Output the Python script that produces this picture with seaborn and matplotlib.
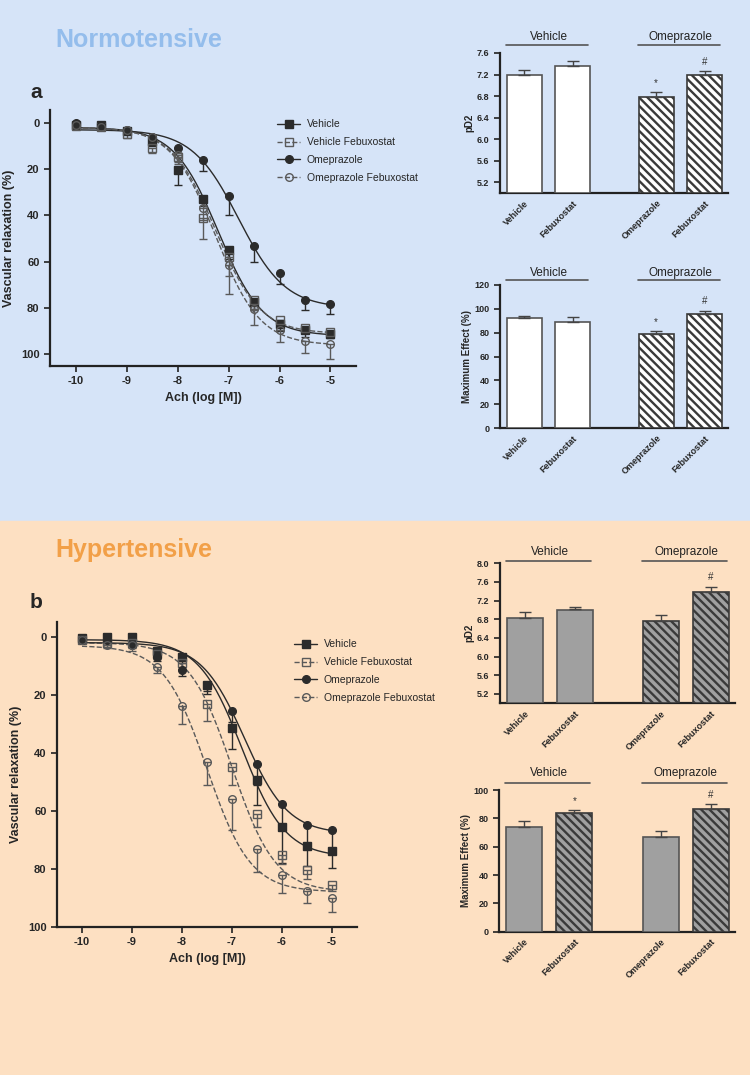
import numpy as np
import seaborn as sns
import matplotlib.pyplot as plt
from matplotlib.lines import Line2D
from matplotlib.patches import Rectangle
import matplotlib.transforms as mtrans

# concentration-response data (log [Ach], % relaxation, SEM)
log_ach = [-10, -9.5, -9, -8.5, -8, -7.5, -7, -6.5, -6, -5.5, -5]
series = ["Vehicle", "Vehicle Febuxostat", "Omeprazole", "Omeprazole Febuxostat"]

# a: normotensive
norm_veh = [1, 1, 3.5, 8, 20.5, 33, 55, 77.4, 86.7, 89.6, 91]
norm_veh_err = [1, 1, 1, 2, 6.5, 3, 4, 3, 3, 3, 2]
norm_vfeb = [1.5, 2, 5, 11, 15, 41, 58, 76.7, 85, 88.5, 90.3]
norm_vfeb_err = [1, 1, 1.5, 2, 3, 9, 8, 4, 3, 2, 2]
norm_ome = [0, 1, 3, 6, 11, 16, 31.7, 53.3, 64.8, 76.6, 78.4]
norm_ome_err = [1, 1, 1, 1, 2, 5, 8, 6.7, 5, 4.4, 4]
norm_ofeb = [1, 2, 3, 6, 14, 37, 61.5, 80.2, 89.3, 94.2, 95.7]
norm_ofeb_err = [1, 1, 1, 1.5, 3, 5, 12.5, 7.3, 5.4, 5.2, 6.2]
# fitted curve parameters (bottom, top, logEC50, hill)
norm_fits = [(2, 92, -7.2, 1.0), (2, 91, -7.25, 1.0), (3, 80, -6.8, 0.95), (2, 96, -7.25, 1.0)]

# b: hypertensive
hyp_veh = [0.5, 0, 0, 5, 7, 16.7, 31.6, 49.4, 65.5, 72.2, 73.8]
hyp_veh_err = [1, 1, 1, 1.5, 2, 3, 7, 8.6, 12.5, 7, 6]
hyp_vfeb = [1, 2, 2, 6, 9, 23.2, 44.8, 61.3, 75.3, 80.4, 85.6]
hyp_vfeb_err = [1, 1, 1, 1.5, 2, 6, 6.3, 4.2, 3, 3, 2]
hyp_ome = [1, 1, 3, 7, 11.5, 16.7, 25.5, 44, 57.8, 65, 66.7]
hyp_ome_err = [1, 1, 1, 1.5, 2, 2, 4, 7, 8, 8, 7]
hyp_ofeb = [1, 3, 3, 10.5, 24, 43.3, 56, 73.3, 82.3, 87.6, 90]
hyp_ofeb_err = [1, 1, 2, 2, 6, 7.8, 10.7, 8, 6, 4.3, 4.8]
hyp_fits = [(1, 76, -6.8, 1.0), (2, 88, -7.0, 1.0), (2, 68, -6.75, 1.0), (3, 88, -7.5, 1.0)]

# bar charts
bar_labels = ["Vehicle", "Febuxostat", "Omeprazole", "Febuxostat"]
group_labels = ["Vehicle", "Omeprazole"]
norm_pd2 = [7.19, 7.35, 6.79, 7.19]
norm_pd2_err = [0.09, 0.11, 0.09, 0.08]
norm_emax = [91.9, 89.3, 79.2, 95.5]
norm_emax_err = [2.1, 3.9, 2.2, 3.1]
hyp_pd2 = [6.83, 7.01, 6.76, 7.39]
hyp_pd2_err = [0.12, 0.06, 0.13, 0.11]
hyp_emax = [74.1, 83.5, 67.1, 86.4]
hyp_emax_err = [4.0, 2.4, 4.0, 3.5]
norm_pd2_sig = ["", "", "*", "#"]
norm_emax_sig = ["", "", "*", "#"]
hyp_pd2_sig = ["", "", "", "#"]
hyp_emax_sig = ["", "*", "", "#"]

sns.set_theme(style="ticks")
plt.rcParams["font.family"] = ["Liberation Sans", "DejaVu Sans"]
plt.rcParams["hatch.linewidth"] = 1.7

BLUE_BG = "#d6e4f8"
PEACH_BG = "#fde0c2"
split = 1 - 521 / 1075

fig = plt.figure(figsize=(7.5, 10.75), dpi=100)
fig.patches.append(Rectangle((0, split), 1, 1 - split, transform=fig.transFigure,
                             color=BLUE_BG, zorder=-10))
fig.patches.append(Rectangle((0, 0), 1, split, transform=fig.transFigure,
                             color=PEACH_BG, zorder=-10))

styles = [
    dict(marker="s", filled=True, ls="-", color="#2b2b2b"),
    dict(marker="s", filled=False, ls="--", color="#5a5a5a"),
    dict(marker="o", filled=True, ls="-", color="#2b2b2b"),
    dict(marker="o", filled=False, ls="--", color="#5a5a5a"),
]


def bold_ticks(ax, size):
    ax.tick_params(labelsize=size, width=1.2, length=4, direction="out", color="#222")
    for lbl in ax.get_xticklabels() + ax.get_yticklabels():
        lbl.set_fontweight("bold")
    for s in ["left", "bottom"]:
        ax.spines[s].set_linewidth(1.6)
        ax.spines[s].set_color("#222")
    sns.despine(ax=ax)


def response_panel(rect, means, errs, fits, ylim, legend_anchor):
    ax = fig.add_axes(rect)
    ax.set_facecolor("none")
    xs = np.linspace(-10, -5, 200)
    for mean, err, fit, st in zip(means, errs, fits, styles):
        b, t, ec50, h = fit
        curve = b + (t - b) / (1 + 10 ** ((ec50 - xs) * h))
        sns.lineplot(x=xs, y=curve, ax=ax, color=st["color"], linestyle=st["ls"],
                     lw=1.0, legend=False)
        ax.errorbar(log_ach, mean, yerr=[np.zeros(len(err)), err], fmt="none",
                    ecolor=st["color"], elinewidth=1.0, capsize=3, capthick=1.0)
        ax.plot(log_ach, mean, ls="none", marker=st["marker"], ms=6 if st["marker"] == "s" else 5.5,
                mfc=st["color"] if st["filled"] else "none", mec=st["color"], mew=1.0, zorder=5)
    ax.set_xlim(-10.5, -4.5)
    ax.set_ylim(*ylim)
    ax.set_xticks(log_ach[::2])
    ax.set_xticklabels([str(v) for v in log_ach[::2]])
    ax.set_yticks([0, 20, 40, 60, 80, 100])
    ax.set_xlabel("Ach (log [M])", fontsize=9, fontweight="bold")
    ax.set_ylabel("Vascular relaxation (%)", fontsize=9, fontweight="bold")
    bold_ticks(ax, 8)
    handles = [Line2D([], [], color=st["color"], ls=st["ls"], lw=1.0, marker=st["marker"],
                      ms=5.5, mfc=st["color"] if st["filled"] else "none", mec=st["color"])
               for st in styles]
    fig.legend(handles, series, loc="upper left", bbox_to_anchor=legend_anchor,
               frameon=False, fontsize=7.5, handlelength=2.2, labelspacing=0.75,
               handletextpad=0.6)
    return ax


def bar_panel(rect, vals, errs, sig, hatched, fill, ylim, yticks, ylabel,
              line_y, text_y):
    ax = fig.add_axes(rect)
    ax.set_facecolor("none")
    pos = [0, 1, 2.72, 3.72]
    base = ylim[0]
    for p, v, e, s, h in zip(pos, vals, errs, sig, hatched):
        ax.bar(p, v - base, bottom=base, width=0.72, color=fill,
               edgecolor="#3a3a3a" if h else "#555555", linewidth=1.2,
               hatch="\\" * 4 if h else None, zorder=3)
        ax.errorbar(p, v, yerr=[[0], [e]], fmt="none", ecolor="#444", elinewidth=1.0,
                    capsize=4, capthick=1.0, zorder=4)
        if s:
            ax.annotate(s, (p, v + e), xytext=(0, 3), textcoords="offset points",
                        ha="center", va="bottom", fontsize=7, color="#333")
    ax.set_xlim(-0.5, 4.2)
    ax.set_ylim(*ylim)
    ax.set_yticks(yticks)
    ax.set_yticklabels([f"{t:g}" if isinstance(t, int) else f"{t:.1f}" for t in yticks])
    ax.set_xticks(pos)
    ax.set_xticklabels(bar_labels, rotation=45, ha="right", rotation_mode="anchor")
    ax.set_ylabel(ylabel, fontsize=7, fontweight="bold", labelpad=2)
    bold_ticks(ax, 6.5)
    ax.tick_params(axis="x", length=0, pad=4)
    tr = mtrans.blended_transform_factory(ax.transData, ax.transAxes)
    for (a, b), g in zip([(pos[0], pos[1]), (pos[2], pos[3])], group_labels):
        ax.plot([a - 0.38, b + 0.32], [line_y, line_y], color="#555", lw=1.2,
                transform=tr, clip_on=False)
        ax.text((a + b) / 2, text_y, g, transform=tr, ha="center", va="center",
                fontsize=8.5, color="#222")
    return ax


# titles and panel letters
fig.text(55 / 750, 1 - 40 / 1075, "Normotensive", color="#94bdec", fontsize=18,
         fontweight="bold", va="center")
fig.text(30 / 750, 1 - 92 / 1075, "a", fontsize=15, fontweight="bold", va="center")
fig.text(55 / 750, 1 - 550 / 1075, "Hypertensive", color="#f2a048", fontsize=18,
         fontweight="bold", va="center")
fig.text(30 / 750, 1 - 602 / 1075, "b", fontsize=15, fontweight="bold", va="center")

# a
response_panel([50 / 750, 1 - 366 / 1075, 306 / 750, 256 / 1075],
               [norm_veh, norm_vfeb, norm_ome, norm_ofeb],
               [norm_veh_err, norm_vfeb_err, norm_ome_err, norm_ofeb_err],
               norm_fits, (105, -5.5), (268 / 750, 1 - 110 / 1075))
bar_panel([500 / 750, 1 - 193 / 1075, 228 / 750, 140 / 1075], norm_pd2, norm_pd2_err,
          norm_pd2_sig, [False, False, True, True], "white", (5.0, 7.6),
          [5.2, 5.6, 6.0, 6.4, 6.8, 7.2, 7.6], "pD2", 1.057, 1.114)
bar_panel([500 / 750, 1 - 428 / 1075, 228 / 750, 143 / 1075], norm_emax, norm_emax_err,
          norm_emax_sig, [False, False, True, True], "white", (0, 120),
          [0, 20, 40, 60, 80, 100, 120], "Maximum Effect (%)", 1.035, 1.084)

# b
response_panel([57 / 750, 1 - 926.7 / 1075, 300 / 750, 305 / 1075],
               [hyp_veh, hyp_vfeb, hyp_ome, hyp_ofeb],
               [hyp_veh_err, hyp_vfeb_err, hyp_ome_err, hyp_ofeb_err],
               hyp_fits, (100, -5.2), (285 / 750, 1 - 630 / 1075))
bar_panel([500 / 750, 1 - 703.3 / 1075, 235 / 750, 140 / 1075], hyp_pd2, hyp_pd2_err,
          hyp_pd2_sig, [False, False, True, True], "#a0a0a0", (5.0, 8.0),
          [5.2, 5.6, 6.0, 6.4, 6.8, 7.2, 7.6, 8.0], "pD2", 1.019, 1.08)
bar_panel([499 / 750, 1 - 931.7 / 1075, 236 / 750, 141.7 / 1075], hyp_emax, hyp_emax_err,
          hyp_emax_sig, [False, True, False, True], "#a0a0a0", (0, 100),
          [0, 20, 40, 60, 80, 100], "Maximum Effect (%)", 1.05, 1.12)

fig.savefig("out.png", dpi=100)
